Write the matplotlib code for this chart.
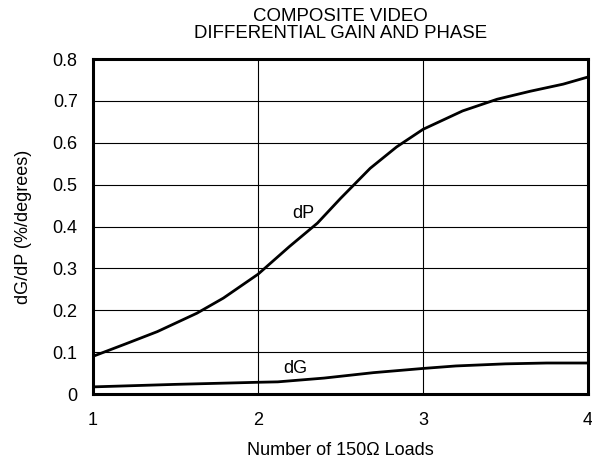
import matplotlib
matplotlib.use("Agg")
import matplotlib.pyplot as plt

plt.rcParams['font.family'] = ['Liberation Sans', 'DejaVu Sans']

title = "COMPOSITE VIDEO\nDIFFERENTIAL GAIN AND PHASE"
xlabel = "Number of 150\u03a9 Loads"
ylabel = "dG/dP (%/degrees)"

dp_x = [1.0, 1.2, 1.39, 1.63, 1.79, 2.0, 2.19, 2.36, 2.5, 2.68, 2.84, 3.0, 3.24, 3.45, 3.65, 3.85, 4.0]
dp_y = [0.09, 0.12, 0.149, 0.193, 0.229, 0.286, 0.352, 0.408, 0.467, 0.539, 0.590, 0.632, 0.676, 0.704, 0.723, 0.740, 0.757]

dg_x = [1.0, 1.5, 2.0, 2.12, 2.4, 2.7, 3.0, 3.2, 3.5, 3.75, 4.0]
dg_y = [0.017, 0.023, 0.028, 0.029, 0.038, 0.051, 0.061, 0.067, 0.072, 0.074, 0.074]

xticks = [1, 2, 3, 4]
yticks = [0, 0.1, 0.2, 0.3, 0.4, 0.5, 0.6, 0.7, 0.8]
yticklabels = ["0", "0.1", "0.2", "0.3", "0.4", "0.5", "0.6", "0.7", "0.8"]

FS = 13

fig = plt.figure(figsize=(5.92, 4.61), dpi=100)
ax = fig.add_axes([93/592, 1-394/461, (588-93)/592, (394-59)/461])

ax.plot(dp_x, dp_y, color='black', lw=2.0, solid_capstyle='butt', solid_joinstyle='round')
ax.plot(dg_x, dg_y, color='black', lw=2.0, solid_capstyle='butt', solid_joinstyle='round')

ax.set_xlim(1, 4)
ax.set_ylim(0, 0.8)
ax.set_xticks(xticks)
ax.set_yticks(yticks)
ax.set_yticklabels(yticklabels)
ax.grid(True, color='black', lw=0.8)
ax.tick_params(length=0, labelsize=FS)
ax.tick_params(axis='y', pad=11)
ax.tick_params(axis='x', pad=13)
for s in ax.spines.values():
    s.set_linewidth(2.2)

ax.text(2.206, 0.432, "dP", fontsize=FS, va='center', ha='left')
ax.text(2.15, 0.061, "dG", fontsize=FS, va='center', ha='left')

ax.set_xlabel(xlabel, fontsize=FS, labelpad=9)
ax.set_ylabel(ylabel, fontsize=FS, labelpad=15)
ax.set_title(title, fontsize=13.4, pad=15, linespacing=1.0)

fig.savefig("out.png", dpi=100)
